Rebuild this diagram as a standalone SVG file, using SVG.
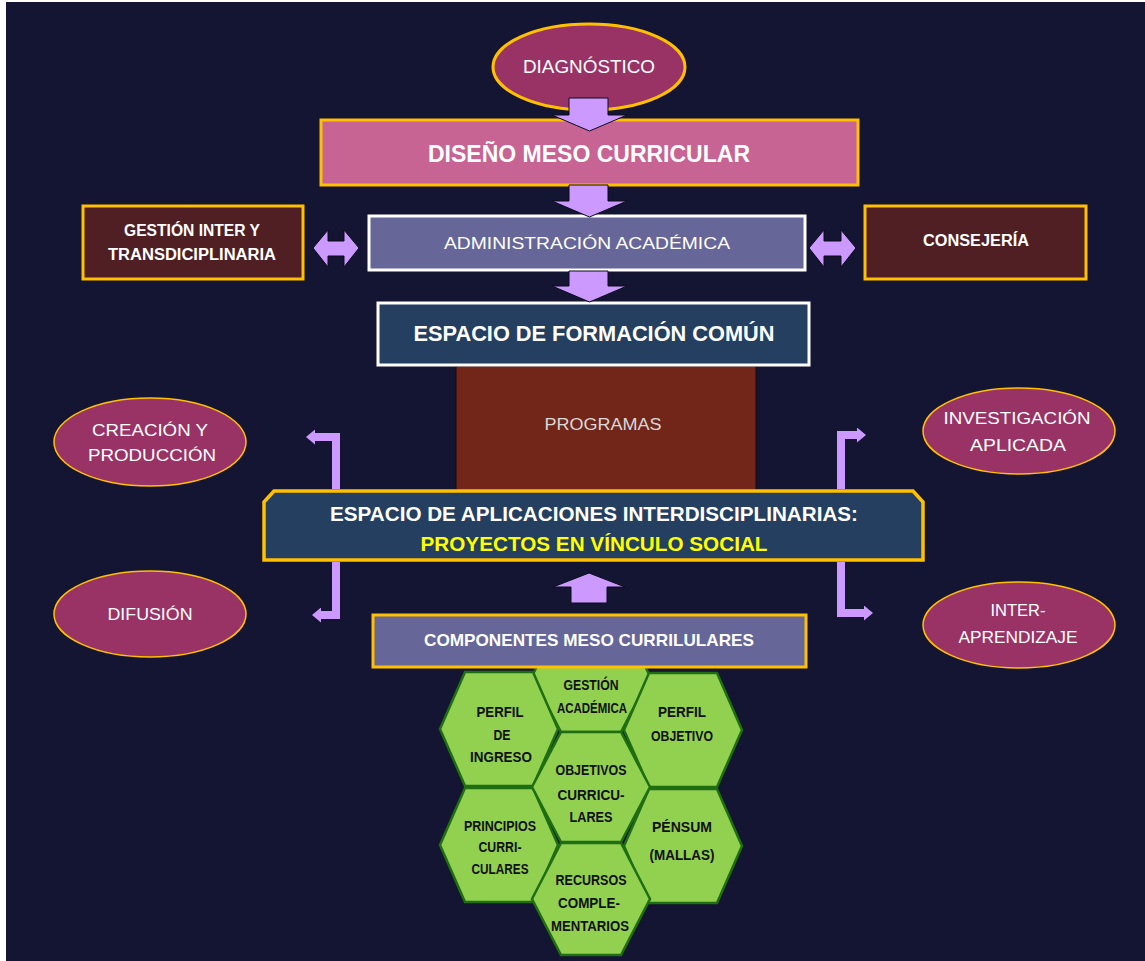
<svg xmlns="http://www.w3.org/2000/svg" width="1145" height="961" viewBox="0 0 1145 961">
<defs>
<style>
.t{font-family:"Liberation Sans",Arial,sans-serif;fill:#ffffff;text-anchor:middle}
.b{font-weight:bold}
.ell{fill:#993366;stroke:#FFC000;stroke-width:1.5}
.arr{fill:#CC99FF;stroke:#0b0b1e;stroke-width:1}
.brk{fill:none;stroke:#CC99FF;stroke-width:8;stroke-linejoin:miter}
.hex{fill:#92D050;stroke:#1F6E12;stroke-width:2.5}
.ht{font-family:"Liberation Sans",Arial,sans-serif;font-weight:bold;font-size:15px;fill:#111111;text-anchor:middle}
</style>
<marker id="ah" markerWidth="9" markerHeight="15" refX="1" refY="7.5" orient="auto" markerUnits="userSpaceOnUse">
<path d="M0,0 L9,7.5 L0,15 Z" fill="#CC99FF"/>
</marker>
</defs>
<rect x="0" y="0" width="1145" height="961" fill="#ffffff"/>
<rect x="6" y="2" width="1139" height="959" fill="#141532"/>

<g id="diagnostico">
<ellipse cx="589" cy="67" rx="96" ry="43" fill="#993366" stroke="#FFC000" stroke-width="3"/>
<text class="t" x="589" y="73" font-size="18" textLength="132" lengthAdjust="spacingAndGlyphs">DIAGNÓSTICO</text>
</g>

<g id="diseno">
<rect x="321" y="120" width="537" height="65" fill="#C86494" stroke="#FFC000" stroke-width="3"/>
<text class="t b" x="589" y="162" font-size="24" textLength="322" lengthAdjust="spacingAndGlyphs">DISEÑO MESO CURRICULAR</text>
</g>

<g id="gestion-inter">
<rect x="83" y="206" width="220" height="73" fill="#4F1F24" stroke="#FFC000" stroke-width="3"/>
<text class="t b" x="192" y="236" font-size="16" textLength="136" lengthAdjust="spacingAndGlyphs">GESTIÓN INTER Y</text>
<text class="t b" x="192" y="260" font-size="16" textLength="168" lengthAdjust="spacingAndGlyphs">TRANSDICIPLINARIA</text>
</g>

<g id="administracion">
<rect x="369" y="216" width="436" height="54" fill="#666699" stroke="#ffffff" stroke-width="3"/>
<text class="t" x="587" y="249" font-size="17" textLength="286" lengthAdjust="spacingAndGlyphs">ADMINISTRACIÓN ACADÉMICA</text>
</g>

<g id="consejeria">
<rect x="865" y="206" width="221" height="73" fill="#4F1F24" stroke="#FFC000" stroke-width="3"/>
<text class="t b" x="976" y="246" font-size="16" textLength="106" lengthAdjust="spacingAndGlyphs">CONSEJERÍA</text>
</g>

<g id="programas">
<rect x="456" y="366" width="300" height="130" fill="#722519" stroke="#1a0a08" stroke-width="1"/>
<text class="t" x="603" y="430" font-size="16" style="fill:#d9d9d9" textLength="117" lengthAdjust="spacingAndGlyphs">PROGRAMAS</text>
</g>

<g id="espacio-formacion">
<rect x="378" y="303" width="431" height="62" fill="#243F60" stroke="#ffffff" stroke-width="3"/>
<text class="t b" x="594" y="341" font-size="22" textLength="361" lengthAdjust="spacingAndGlyphs">ESPACIO DE FORMACIÓN COMÚN</text>
</g>

<g id="creacion">
<ellipse class="ell" cx="150" cy="442" rx="96" ry="44"/>
<text class="t" x="150" y="436" font-size="17" textLength="116" lengthAdjust="spacingAndGlyphs">CREACIÓN Y</text>
<text class="t" x="152" y="461" font-size="17" textLength="128" lengthAdjust="spacingAndGlyphs">PRODUCCIÓN</text>
</g>

<g id="difusion">
<ellipse class="ell" cx="150" cy="614" rx="96" ry="43"/>
<text class="t" x="150" y="620" font-size="17" textLength="85" lengthAdjust="spacingAndGlyphs">DIFUSIÓN</text>
</g>

<g id="investigacion">
<ellipse class="ell" cx="1019" cy="431" rx="96" ry="43"/>
<text class="t" x="1017" y="424" font-size="17" textLength="147" lengthAdjust="spacingAndGlyphs">INVESTIGACIÓN</text>
<text class="t" x="1018" y="451" font-size="17" textLength="96" lengthAdjust="spacingAndGlyphs">APLICADA</text>
</g>

<g id="interaprendizaje">
<ellipse class="ell" cx="1019" cy="625" rx="96" ry="43"/>
<text class="t" x="1018" y="616" font-size="17" textLength="55" lengthAdjust="spacingAndGlyphs">INTER-</text>
<text class="t" x="1018" y="643" font-size="17" textLength="119" lengthAdjust="spacingAndGlyphs">APRENDIZAJE</text>
</g>

<g id="espacio-aplicaciones">
<path d="M274,491 H913 L923,502 V560 H264 V502 Z" fill="#243F60" stroke="#FFC000" stroke-width="3.5"/>
<text class="t b" x="594" y="521" font-size="21" textLength="528" lengthAdjust="spacingAndGlyphs">ESPACIO DE APLICACIONES INTERDISCIPLINARIAS:</text>
<text class="t b" x="594" y="551" font-size="21" style="fill:#FFFF00" textLength="347" lengthAdjust="spacingAndGlyphs">PROYECTOS EN VÍNCULO SOCIAL</text>
</g>

<g id="hex-gestion">
<polygon class="hex" points="561,620 621,620 650,676 621,732 561,732 532,676"/>
<text class="ht" x="591" y="690" textLength="55" lengthAdjust="spacingAndGlyphs">GESTIÓN</text>
<text class="ht" x="592" y="713" textLength="70" lengthAdjust="spacingAndGlyphs">ACADÉMICA</text>
</g>

<g id="componentes">
<rect x="373" y="615" width="433" height="52" fill="#666699" stroke="#FFC000" stroke-width="3"/>
<text class="t b" x="589" y="646" font-size="17" textLength="330" lengthAdjust="spacingAndGlyphs">COMPONENTES MESO CURRILULARES</text>
</g>

<g id="hex-perfil-ingreso">
<polygon class="hex" points="465,672 533,672 558,729 533,786 465,786 440,729"/>
<text class="ht" x="500" y="717" textLength="47" lengthAdjust="spacingAndGlyphs">PERFIL</text>
<text class="ht" x="502" y="740" textLength="17" lengthAdjust="spacingAndGlyphs">DE</text>
<text class="ht" x="501" y="762" textLength="62" lengthAdjust="spacingAndGlyphs">INGRESO</text>
</g>

<g id="hex-perfil-objetivo">
<polygon class="hex" points="649,673 717,673 742,730 717,787 649,787 624,730"/>
<text class="ht" x="682" y="717" textLength="48" lengthAdjust="spacingAndGlyphs">PERFIL</text>
<text class="ht" x="682" y="741" textLength="62" lengthAdjust="spacingAndGlyphs">OBJETIVO</text>
</g>

<g id="hex-principios">
<polygon class="hex" points="465,788 533,788 558,845 533,902 465,902 440,845"/>
<text class="ht" x="500" y="831" textLength="72" lengthAdjust="spacingAndGlyphs">PRINCIPIOS</text>
<text class="ht" x="500" y="852" textLength="43" lengthAdjust="spacingAndGlyphs">CURRI-</text>
<text class="ht" x="500" y="874" textLength="57" lengthAdjust="spacingAndGlyphs">CULARES</text>
</g>

<g id="hex-pensum">
<polygon class="hex" points="649,789 717,789 742,846 717,903 649,903 624,846"/>
<text class="ht" x="682" y="832" textLength="60" lengthAdjust="spacingAndGlyphs">PÉNSUM</text>
<text class="ht" x="682" y="860" textLength="65" lengthAdjust="spacingAndGlyphs">(MALLAS)</text>
</g>

<g id="hex-objetivos">
<polygon class="hex" points="561,732 621,732 650,787 621,842 561,842 532,787"/>
<text class="ht" x="591" y="775" textLength="71" lengthAdjust="spacingAndGlyphs">OBJETIVOS</text>
<text class="ht" x="591" y="800" textLength="67" lengthAdjust="spacingAndGlyphs">CURRICU-</text>
<text class="ht" x="591" y="822" textLength="43" lengthAdjust="spacingAndGlyphs">LARES</text>
</g>

<g id="hex-recursos">
<polygon class="hex" points="561,843 621,843 650,899 621,955 561,955 532,899"/>
<text class="ht" x="591" y="885" textLength="71" lengthAdjust="spacingAndGlyphs">RECURSOS</text>
<text class="ht" x="589" y="908" textLength="62" lengthAdjust="spacingAndGlyphs">COMPLE-</text>
<text class="ht" x="590" y="931" textLength="78" lengthAdjust="spacingAndGlyphs">MENTARIOS</text>
</g>

<g id="connectors">
<path class="arr" d="M569,98 H608 V115 H627 L589.5,131 L552,115 H569 Z"/>
<path class="arr" d="M569,185 H608 V201 H627 L589.5,217 L552,201 H569 Z"/>
<path class="arr" d="M569,271 H608 V286 H627 L589.5,302 L552,286 H569 Z"/>
<path class="arr" d="M571,603 H607 V587 H625 L589,573 L553,587 H571 Z"/>
<path class="arr" d="M313,248 L328,230 V241 H344 V230 L359,248 L344,267 V256 H328 V267 Z"/>
<path class="arr" d="M809,248 L824,230 V241 H841 V230 L856,248 L841,267 V256 H824 V267 Z"/>
<path class="brk" d="M336,489 V437 H314" marker-end="url(#ah)"/>
<path class="brk" d="M336,562 V615 H320" marker-end="url(#ah)"/>
<path class="brk" d="M841,489 V435 H858" marker-end="url(#ah)"/>
<path class="brk" d="M841,562 V613 H865" marker-end="url(#ah)"/>
</g>
</svg>
